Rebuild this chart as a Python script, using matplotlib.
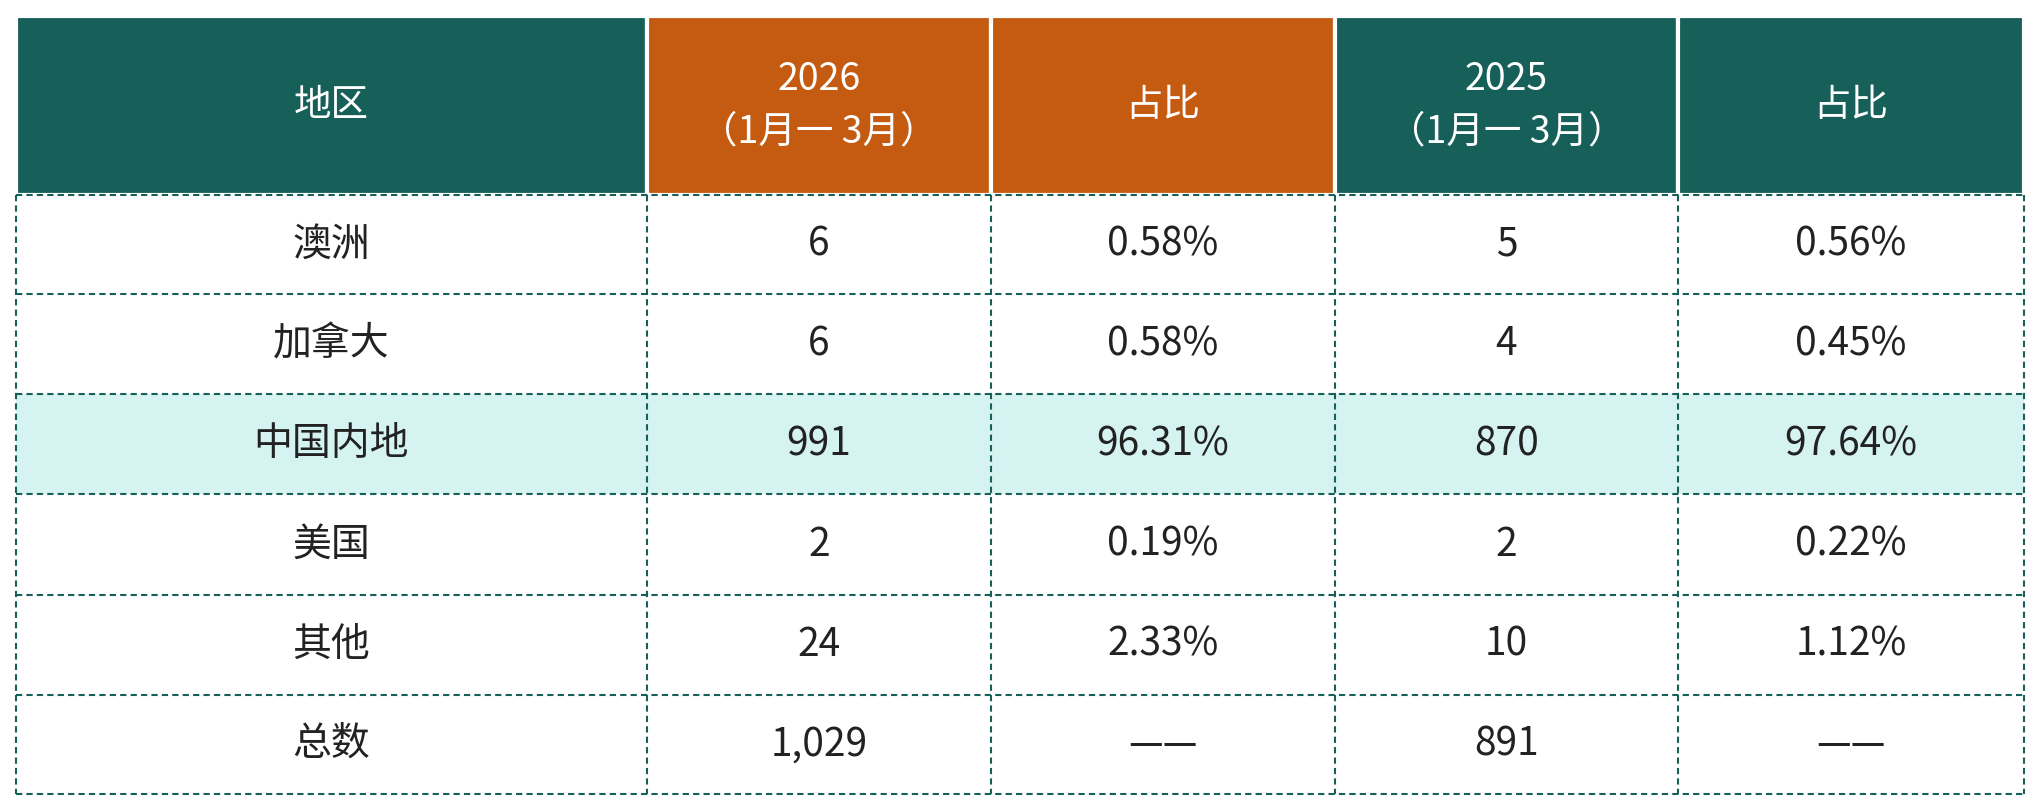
import matplotlib.pyplot as plt
from matplotlib.patches import Rectangle

plt.rcParams['font.family'] = ['Noto Sans CJK SC', 'DejaVu Sans']

headers = ['地区', '2026\n（1月一 3月）', '占比', '2025\n（1月一 3月）', '占比']
regions = ['澳洲', '加拿大', '中国内地', '美国', '其他', '总数']
count_2026 = ['6', '6', '991', '2', '24', '1,029']
share_2026 = ['0.58%', '0.58%', '96.31%', '0.19%', '2.33%', '——']
count_2025 = ['5', '4', '870', '2', '10', '891']
share_2025 = ['0.56%', '0.45%', '97.64%', '0.22%', '1.12%', '——']

W, H = 2040, 810
# column edges and row edges in pixels (from top)
xs = [16, 647, 991, 1335, 1678, 2024]
ys = [16, 195, 294, 394, 494, 595, 695, 794]
teal = '#17605a'
orange = '#c55a11'
highlight = '#d4f3f1'
header_colors = [teal, orange, orange, teal, teal]

fig = plt.figure(figsize=(W / 100, H / 100), dpi=100)
ax = fig.add_axes([0, 0, 1, 1])
ax.set_xlim(0, W)
ax.set_ylim(H, 0)
ax.axis('off')

# header
for j, h in enumerate(headers):
    ax.add_patch(Rectangle((xs[j], ys[0]), xs[j + 1] - xs[j], ys[1] - ys[0],
                           facecolor=header_colors[j], edgecolor='white', lw=3))
    ax.text((xs[j] + xs[j + 1]) / 2, (ys[0] + ys[1]) / 2, h, color='white',
            ha='center', va='center', fontsize=27, linespacing=1.45)

# body
cols = [regions, count_2026, share_2026, count_2025, share_2025]
for i in range(len(regions)):
    y0, y1 = ys[i + 1], ys[i + 2]
    if regions[i] == '中国内地':
        ax.add_patch(Rectangle((xs[0], y0), xs[-1] - xs[0], y1 - y0,
                               facecolor=highlight, edgecolor='none'))
    for j, col in enumerate(cols):
        ax.text((xs[j] + xs[j + 1]) / 2, (y0 + y1) / 2, col[i], color='#222222',
                ha='center', va='center', fontsize=28)

# dashed grid lines
for y in ys[1:]:
    ax.plot([xs[0], xs[-1]], [y, y], color=teal, lw=1.5, ls=(0, (3, 2)))
for x in xs:
    ax.plot([x, x], [ys[1], ys[-1]], color=teal, lw=1.5, ls=(0, (3, 2)))

fig.savefig('out.png', dpi=100, facecolor='white')
